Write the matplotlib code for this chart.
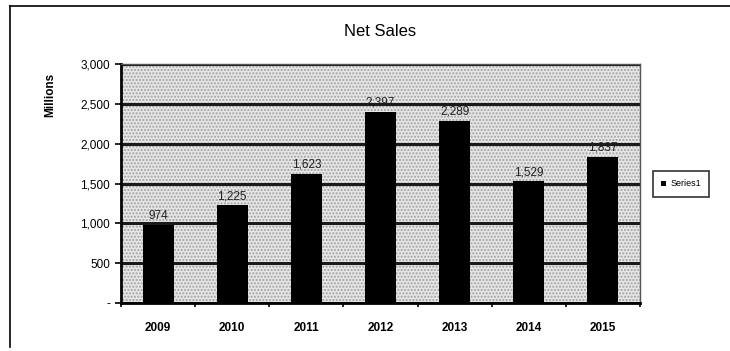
import matplotlib.pyplot as plt
from matplotlib.ticker import FixedLocator
import numpy as np

years = ['2009', '2010', '2011', '2012', '2013', '2014', '2015']
net_sales = [974, 1225, 1623, 2397, 2289, 1529, 1837]
y_ticks = [0, 500, 1000, 1500, 2000, 2500, 3000]
y_tick_labels = ['-', '500', '1,000', '1,500', '2,000', '2,500', '3,000']

plt.rcParams['font.family'] = ['Liberation Sans', 'DejaVu Sans']

fig = plt.figure(figsize=(7.3, 3.51), dpi=100)
ax = fig.add_axes([121/730, 1 - 303/351, (640 - 121)/730, (303 - 64)/351])

# stippled grey plot background
ax.set_facecolor('#e6e6e6')
ax.add_patch(plt.Rectangle((0, 0), 1, 1, transform=ax.transAxes, fill=False,
                           hatch='.....', edgecolor='#a0a0a0', lw=0, zorder=0))

x = np.arange(len(years))
bars = ax.bar(x, net_sales, width=0.42, color='black', zorder=3, label='Series1')

for xi, v in zip(x, net_sales):
    ax.text(xi, v + 40, f'{v:,}', ha='center', va='bottom', fontsize=8.5, color='#222222', zorder=4)

ax.set_xlim(-0.5, len(years) - 0.5)
ax.set_ylim(0, 3000)
ax.set_yticks(y_ticks)
ax.set_yticklabels(y_tick_labels, fontsize=8.5)
ax.set_xticks(x)
ax.set_xticklabels(years, fontsize=8.5, fontweight='bold')
ax.xaxis.set_minor_locator(FixedLocator(np.arange(-0.5, len(years), 1)))
ax.tick_params(axis='x', which='major', length=0, pad=14)
ax.tick_params(axis='x', which='minor', length=3, width=1.2, direction='out')
ax.tick_params(axis='y', length=4, width=1.2, direction='out', pad=4)

ax.yaxis.grid(True, color='#1a1a1a', lw=2.2, zorder=1)
ax.set_axisbelow(True)
for s in ['left', 'bottom']:
    ax.spines[s].set_linewidth(2)
for s in ['top', 'right']:
    ax.spines[s].set_linewidth(1)
    ax.spines[s].set_color('#555555')

ax.set_ylabel('Millions', fontsize=8.5, fontweight='bold')
ax.yaxis.set_label_coords(-0.125, 0.87)
fig.text(380/730, 1 - 31/351, 'Net Sales', ha='center', va='center', fontsize=12)

fig.legend(handles=[bars], labels=['Series1'], loc='center left',
           bbox_to_anchor=(653/730, 1 - 184/351), fontsize=6.5, frameon=True,
           fancybox=False, edgecolor='black', handlelength=0.5, handleheight=0.5,
           handletextpad=0.5, borderpad=0.9, borderaxespad=0).get_frame().set_linewidth(1.2)

# outer chart border
fig.add_artist(plt.Line2D([10/730, 10/730], [0.01, 1 - 6/351], color='black', lw=1.2,
                          transform=fig.transFigure))
fig.add_artist(plt.Line2D([10/730, 1.0], [1 - 6/351, 1 - 6/351], color='black', lw=1.2,
                          transform=fig.transFigure))

fig.savefig('out.png', dpi=100)
